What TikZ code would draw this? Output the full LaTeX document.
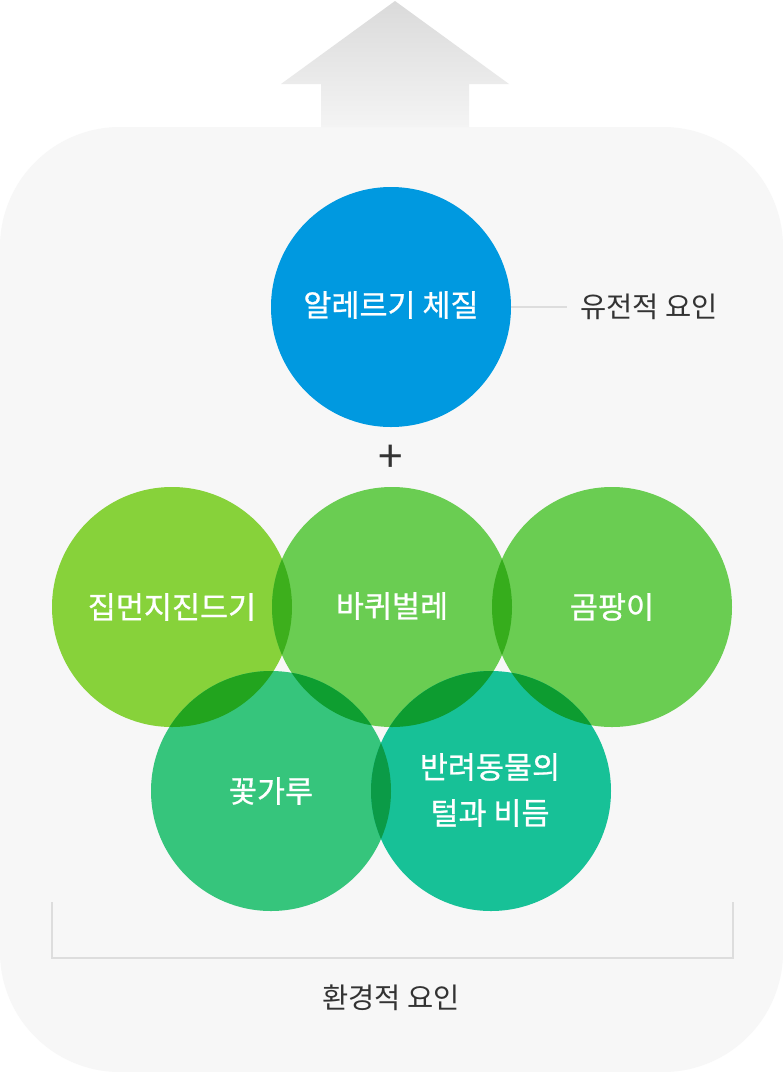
\documentclass[tikz,border=0pt]{standalone}
\usepackage{fontspec}
\newfontfamily\kr{Noto Sans CJK KR}
\newfontfamily\krw{Noto Sans CJK KR}[FakeBold=0.8]
\usetikzlibrary{calc}
\definecolor{bgpanel}{HTML}{F7F7F7}
\definecolor{arrtop}{HTML}{DADADA}
\definecolor{arrbot}{HTML}{F4F4F4}
\definecolor{cblue}{HTML}{0099E0}
\definecolor{cA}{HTML}{87D23A}
\definecolor{cB}{HTML}{6ACD52}
\definecolor{cD}{HTML}{36C57C}
\definecolor{cE}{HTML}{17C197}
\definecolor{oAB}{HTML}{3DAF1C}
\definecolor{oBC}{HTML}{36AD1C}
\definecolor{oAD}{HTML}{22A41E}
\definecolor{oBD}{HTML}{0E9E30}
\definecolor{oBE}{HTML}{0D9C30}
\definecolor{oCE}{HTML}{0D9C30}
\definecolor{oDE}{HTML}{0B9B47}
\definecolor{linegray}{HTML}{DDDDDD}
\definecolor{txtgray}{HTML}{333333}
\tikzset{
  bubble/.style={circle, minimum size=240pt, inner sep=0pt, draw=none},
  wtext/.style={text=white, font=\krw\fontsize{30.5}{46}\selectfont, align=center},
  gtext/.style={text=txtgray, font=\kr\fontsize{28.5}{32}\selectfont},
  thinline/.style={draw=linegray, line width=1.5pt},
}
\begin{document}
\begin{tikzpicture}[x=1pt,y=-1pt]
\useasboundingbox (0,0) rectangle (783,1072);
\fill[white] (0,0) rectangle (783,1072);
% panel
\fill[bgpanel, rounded corners=120pt] (0,127) rectangle (783,1072);
% arrow
\shade[top color=arrtop, bottom color=arrbot]
  (395,1) -- (509,84) -- (469,84) -- (469,127) -- (321,127) -- (321,84) -- (281,84) -- cycle;
% circles
\node[bubble, fill=cblue] (blue) at (391,307) {};
\node[bubble, fill=cA] (mite) at (172,607) {};
\node[bubble, fill=cB] (roach) at (392,607) {};
\node[bubble, fill=cB] (mold) at (612,607) {};
\node[bubble, fill=cD] (pollen) at (271,791) {};
\node[bubble, fill=cE] (pet) at (491,791) {};
% overlaps
\begin{scope}\clip (mite.center) circle[radius=120pt]; \fill[oAB] (roach.center) circle[radius=120pt];\end{scope}
\begin{scope}\clip (roach.center) circle[radius=120pt]; \fill[oBC] (mold.center) circle[radius=120pt];\end{scope}
\begin{scope}\clip (mite.center) circle[radius=120pt]; \fill[oAD] (pollen.center) circle[radius=120pt];\end{scope}
\begin{scope}\clip (roach.center) circle[radius=120pt]; \fill[oBD] (pollen.center) circle[radius=120pt];\end{scope}
\begin{scope}\clip (roach.center) circle[radius=120pt]; \fill[oBE] (pet.center) circle[radius=120pt];\end{scope}
\begin{scope}\clip (mold.center) circle[radius=120pt]; \fill[oCE] (pet.center) circle[radius=120pt];\end{scope}
\begin{scope}\clip (pollen.center) circle[radius=120pt]; \fill[oDE] (pet.center) circle[radius=120pt];\end{scope}
% texts
\node[wtext] (tblue) at (391,305) {알레르기 체질};
\node[wtext] (tmite) at (172,607) {집먼지진드기};
\node[wtext] (troach) at (392,606) {바퀴벌레};
\node[wtext] (tmold) at (612,607) {곰팡이};
\node[wtext] (tpollen) at (271,791) {꽃가루};
\node[wtext] (tpet) at (490,790) {반려동물의\\털과 비듬};
\node[gtext, inner xsep=13pt] (gen) at (649,307) {유전적 요인};
\node[text=txtgray, font=\kr\fontsize{44}{50}\selectfont] (plus) at (391,459) {+};
\node[gtext] (env) at (391,998) {환경적 요인};
% connector
\draw[thinline] (blue.east) -- (blue.east -| gen.west);
% bracket
\coordinate (bl) at (52,902);
\coordinate (blb) at (52,958);
\coordinate (brb) at (733,958);
\coordinate (br) at (733,902);
\draw[thinline] (bl) -- (blb) -- (brb) -- (br);
\end{tikzpicture}
\end{document}
